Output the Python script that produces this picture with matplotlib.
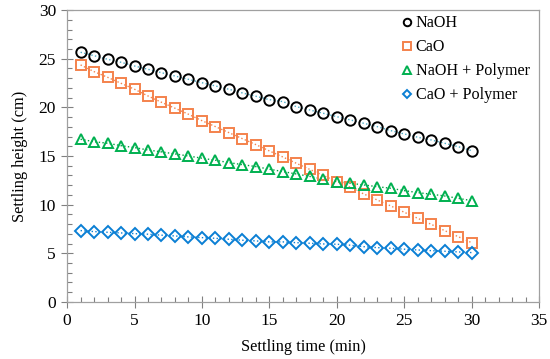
import numpy as np
import matplotlib.pyplot as plt
from matplotlib.ticker import MultipleLocator

plt.rcParams['font.family'] = ['Liberation Serif', 'DejaVu Serif']

t = list(range(1, 31))
naoh = [25.66, 25.31, 24.94, 24.63, 24.25, 23.91, 23.56, 23.22, 22.88, 22.53,
        22.20, 21.86, 21.48, 21.14, 20.79, 20.59, 20.07, 19.73, 19.39, 19.04,
        18.71, 18.36, 18.02, 17.61, 17.27, 16.93, 16.65, 16.31, 15.96, 15.55]
cao = [24.36, 23.67, 23.09, 22.47, 21.86, 21.17, 20.52, 19.91, 19.29, 18.63,
       18.02, 17.40, 16.78, 16.17, 15.52, 14.90, 14.25, 13.62, 13.00, 12.37,
       11.79, 11.10, 10.48, 9.87, 9.22, 8.60, 7.98, 7.33, 6.71, 6.09]
naoh_pol = [16.72, 16.47, 16.31, 16.06, 15.86, 15.62, 15.42, 15.21, 15.00, 14.77,
            14.56, 14.32, 14.11, 13.91, 13.64, 13.40, 13.15, 12.90, 12.62, 12.37,
            12.20, 12.02, 11.85, 11.68, 11.44, 11.24, 11.07, 10.89, 10.65, 10.41]
cao_pol = [7.33, 7.23, 7.16, 7.09, 7.02, 6.96, 6.86, 6.78, 6.68, 6.61,
           6.54, 6.44, 6.34, 6.27, 6.17, 6.17, 6.09, 6.03, 5.96, 5.93,
           5.83, 5.68, 5.58, 5.52, 5.42, 5.34, 5.27, 5.21, 5.14, 5.07]

series = [
    ('NaOH', naoh, 'o', 'black', '#4bacc6'),
    ('CaO', cao, 's', '#f4824c', '#f4824c'),
    ('NaOH + Polymer', naoh_pol, '^', '#00b050', '#00a040'),
    ('CaO + Polymer', cao_pol, 'D', '#0a7fd4', '#0a7fd4'),
]

fig = plt.figure(figsize=(5.5, 3.59), dpi=100)
ax = fig.add_axes([0.122, 0.159, 0.858, 0.813])

for name, vals, mk, mc, lc in series:
    # dotted trend line beneath the markers
    ax.plot(t, vals, ':', color=lc, linewidth=1.0, zorder=1)
    ax.plot(t, vals, linestyle='none', marker=mk, markersize=7.5 if mk != 'D' else 6,
            markerfacecolor='none', markeredgecolor=mc, markeredgewidth=1.4,
            label=name, zorder=2)

ax.set_xlim(0, 35)
ax.set_ylim(0, 30)
ax.xaxis.set_major_locator(MultipleLocator(5))
ax.xaxis.set_minor_locator(MultipleLocator(1))
ax.yaxis.set_major_locator(MultipleLocator(5))
ax.yaxis.set_minor_locator(MultipleLocator(1))
ax.tick_params(which='major', direction='inout', length=8, width=0.8,
               color='#808080', labelsize=12.5, pad=4)
ax.tick_params(which='minor', direction='in', length=3.5, width=0.8, color='#808080')
ax.tick_params(top=False, right=False, which='both')
for s in ax.spines.values():
    s.set_color('#a0a0a0')
    s.set_linewidth(0.9)

ax.set_xlabel('Settling time (min)', fontsize=11.8, labelpad=7)
ax.set_ylabel('Settling height (cm)', fontsize=11.8, labelpad=8)

ax.legend(loc='upper right', frameon=False, fontsize=11.6, handletextpad=0.0,
          handlelength=1.1, labelspacing=0.5, borderpad=0.2, borderaxespad=0,
          markerscale=0.72, bbox_to_anchor=(0.987, 0.993))

fig.savefig('out.png', dpi=100)
